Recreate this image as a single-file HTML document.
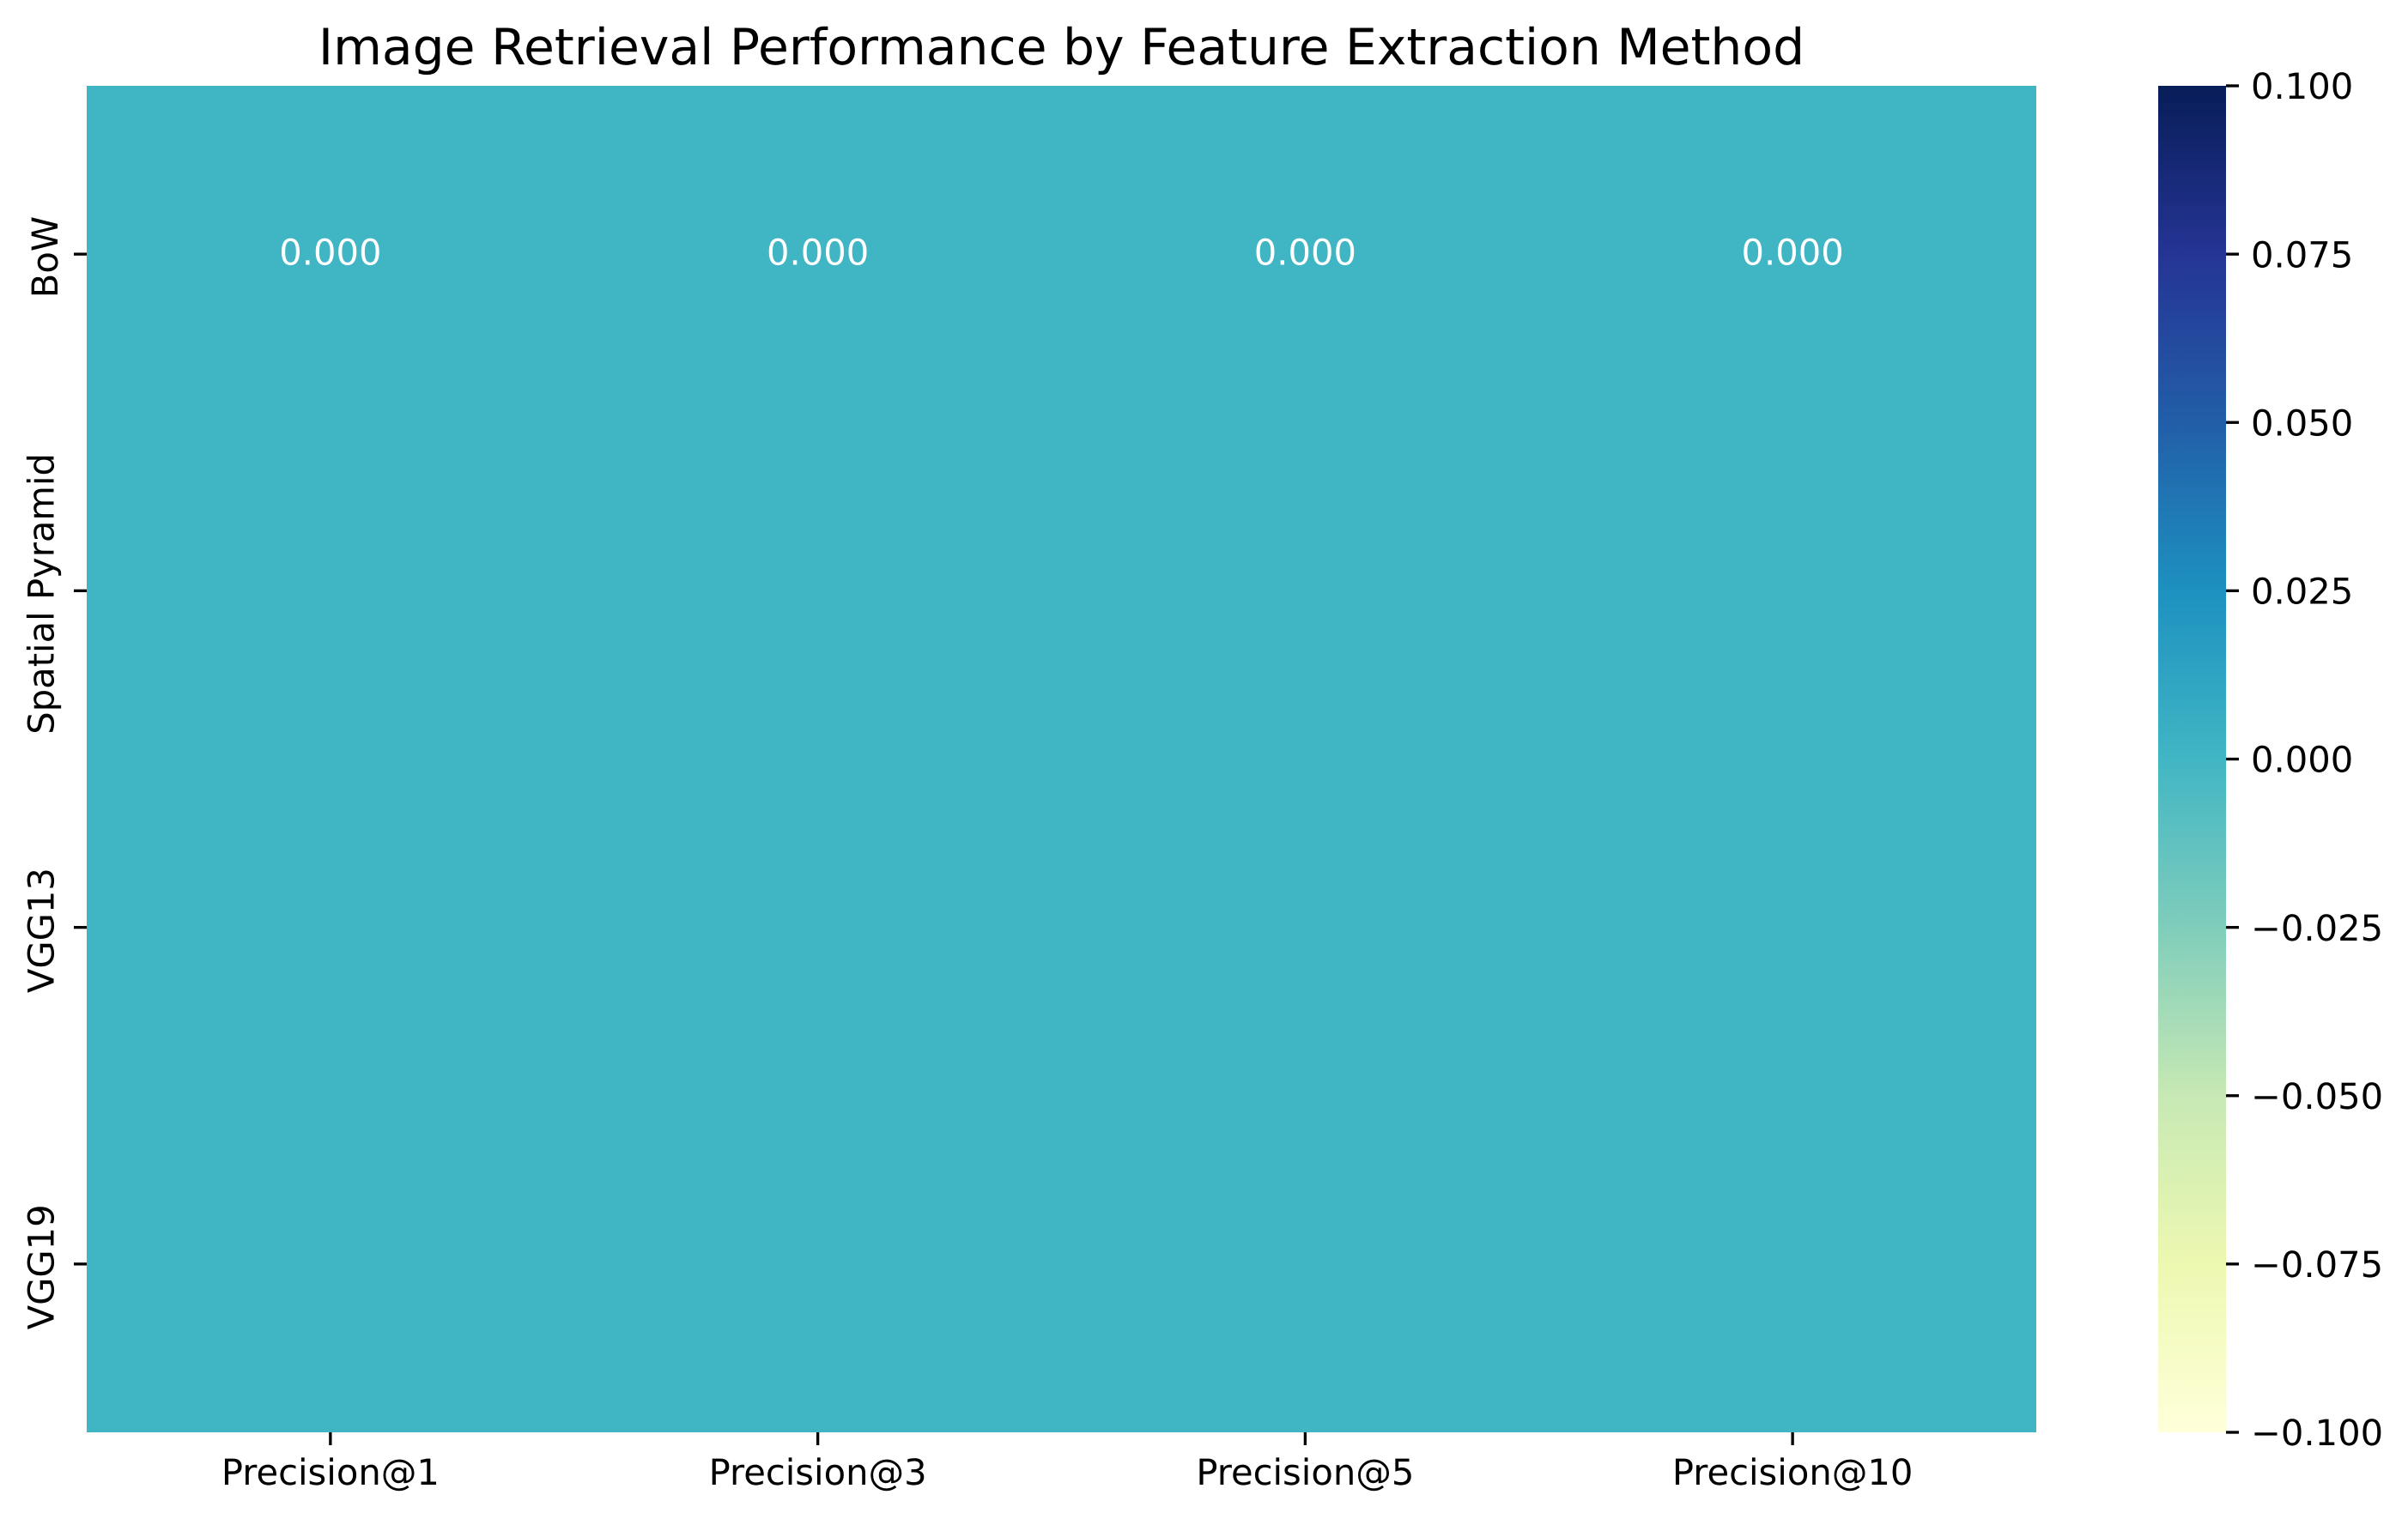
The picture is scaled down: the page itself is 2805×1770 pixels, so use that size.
<!DOCTYPE html>
<html lang="en">
<head>
<meta charset="utf-8">
<title>Image Retrieval Performance by Feature Extraction Method</title>
<style>
html,body{margin:0;padding:0;background:#fff;}
body{width:2805px;height:1770px;overflow:hidden;}
svg{display:block;}
text{font-family:"DejaVu Sans","Liberation Sans",sans-serif;text-rendering:geometricPrecision;fill:#000;}
</style>
</head>
<body>
<svg id="chart" xmlns="http://www.w3.org/2000/svg" width="2805" height="1770" viewBox="0 0 2805 1770">
<defs>
<linearGradient id="cbar-gradient" x1="0" y1="1" x2="0" y2="0"></linearGradient>
</defs>
<rect x="0" y="0" width="2805" height="1770" fill="#ffffff"></rect>
<text x="1236.5" y="75" text-anchor="middle" font-size="58.33">Image Retrieval Performance by Feature Extraction Method</text>
<g id="cells"></g>
<g id="annotations"></g>
<g id="x-axis"></g>
<g id="y-axis"></g>
<g id="colorbar"></g>
</svg>
<script>
const metrics = ["Precision@1", "Precision@3", "Precision@5", "Precision@10"];
const methods = ["BoW", "Spatial Pyramid", "VGG13", "VGG19"];
const bowValues = [0, 0, 0, 0];
const spatialPyramidValues = [0, 0, 0, 0];
const vgg13Values = [0, 0, 0, 0];
const vgg19Values = [0, 0, 0, 0];
const annotatedMethods = ["BoW"];
const colorbarTicks = [-0.1, -0.075, -0.05, -0.025, 0, 0.025, 0.05, 0.075, 0.1];
const colorDomain = [-0.1, 0.1];
const ylGnBu = ["#ffffd9", "#edf8b1", "#c7e9b4", "#7fcdbb", "#41b6c4", "#1d91c0", "#225ea8", "#253494", "#081d58"];

const valueRows = [bowValues, spatialPyramidValues, vgg13Values, vgg19Values];
const NS = "http://www.w3.org/2000/svg";
const plot = { left: 101, right: 2372, top: 100, bottom: 1669 };
const bar = { left: 2514, right: 2593, top: 100, bottom: 1669 };
const TICK = 15;
const FONT = 41.67;
const LUT_SIZE = 256;

function make(tag, parent, attrs) {
  const el = document.createElementNS(NS, tag);
  for (const k in attrs) el.setAttribute(k, attrs[k]);
  parent.appendChild(el);
  return el;
}
function xBand(i) { return plot.left + (plot.right - plot.left) * i / metrics.length; }
function yBand(i) { return plot.top + (plot.bottom - plot.top) * i / methods.length; }
function barY(v) {
  return bar.bottom - (v - colorDomain[0]) / (colorDomain[1] - colorDomain[0]) * (bar.bottom - bar.top);
}
function hexToRgb(h) {
  return [parseInt(h.slice(1, 3), 16), parseInt(h.slice(3, 5), 16), parseInt(h.slice(5, 7), 16)];
}
function colorFor(v) {
  let n = (v - colorDomain[0]) / (colorDomain[1] - colorDomain[0]);
  n = Math.max(0, Math.min(1, n));
  const level = Math.min(Math.floor(n * LUT_SIZE), LUT_SIZE - 1) / (LUT_SIZE - 1);
  const t = level * (ylGnBu.length - 1);
  const i = Math.min(Math.floor(t), ylGnBu.length - 2);
  const a = hexToRgb(ylGnBu[i]);
  const b = hexToRgb(ylGnBu[i + 1]);
  const f = t - i;
  return "rgb(" + a.map((c, k) => Math.round(c + (b[k] - c) * f)).join(",") + ")";
}
function tickLabel(v) {
  const s = Math.abs(v).toFixed(3);
  return v < 0 ? "\u2212" + s : s;
}
function yLabelBaseline(name) {
  return name === "BoW" ? 67 : 62.7;
}

const cellsGroup = document.getElementById("cells");
const annGroup = document.getElementById("annotations");
valueRows.forEach(function (row, r) {
  row.forEach(function (value, c) {
    const cell = make("rect", cellsGroup, {
      x: xBand(c), y: yBand(r),
      width: xBand(c + 1) - xBand(c), height: yBand(r + 1) - yBand(r),
      fill: colorFor(value), "shape-rendering": "crispEdges"
    });
    
    
    if (annotatedMethods.indexOf(methods[r]) !== -1) {
      const label = make("text", annGroup, {
        x: (xBand(c) + xBand(c + 1)) / 2,
        y: (yBand(r) + yBand(r + 1)) / 2 + 12.5,
        "text-anchor": "middle", "font-size": FONT
      });
      
      
      label.style.fill = "#ffffff";
      label.textContent = value.toFixed(3);
    }
  });
});

const xAxis = document.getElementById("x-axis");
metrics.forEach(function (name, i) {
  const x = (xBand(i) + xBand(i + 1)) / 2;
  const tick = make("line", xAxis, { x1: x, x2: x, y1: plot.bottom, y2: plot.bottom + TICK, stroke: "#000", "stroke-width": 3.33 });
  
  
  const label = make("text", xAxis, { x: x, y: 1730, "text-anchor": "middle", "font-size": FONT });
  
  
  label.textContent = name;
});

const yAxis = document.getElementById("y-axis");
methods.forEach(function (name, i) {
  const y = (yBand(i) + yBand(i + 1)) / 2;
  const tick = make("line", yAxis, { x1: plot.left - TICK, x2: plot.left, y1: y, y2: y, stroke: "#000", "stroke-width": 3.33 });
  
  
  const label = make("text", yAxis, { x: 0, y: 0, "text-anchor": "middle", "font-size": FONT, transform: "translate(" + yLabelBaseline(name) + "," + (y + 3.5) + ") rotate(-90)" });
  
  
  label.textContent = name;
});

const gradient = document.getElementById("cbar-gradient");
ylGnBu.forEach(function (color, i) {
  make("stop", gradient, { offset: i / (ylGnBu.length - 1), "stop-color": color });
});
const colorbar = document.getElementById("colorbar");
const ramp = make("rect", colorbar, { x: bar.left, y: bar.top, width: bar.right - bar.left, height: bar.bottom - bar.top, fill: "url(#cbar-gradient)" });


colorbarTicks.forEach(function (v) {
  const y = barY(v);
  const tick = make("line", colorbar, { x1: bar.right, x2: bar.right + TICK, y1: y, y2: y, stroke: "#000", "stroke-width": 3.33 });
  
  
  const label = make("text", colorbar, { x: 2622, y: y + 15.2, "font-size": FONT });
  
  
  label.textContent = tickLabel(v);
});
</script>
</body>
</html>
